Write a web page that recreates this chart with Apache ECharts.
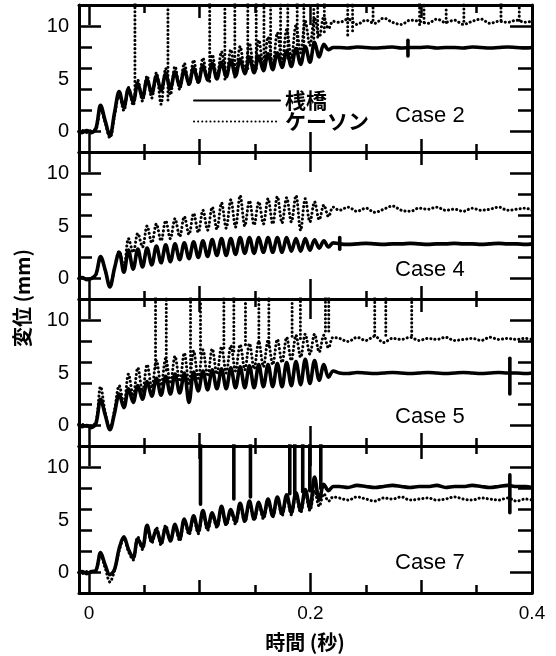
<!DOCTYPE html>
<html><head><meta charset="utf-8">
<script src="https://cdn.jsdelivr.net/npm/echarts@6/dist/echarts.min.js"></script>
<style>html,body{margin:0;padding:0;background:#fff}#c{width:556px;height:656px}</style>
</head><body><div id="c"></div>
<script>
// ---------- data ----------
const caseLabels = ['Case 2', 'Case 4', 'Case 5', 'Case 7'];
const seriesNames = ['桟橋', 'ケーソン'];
const xLabelValues = [0, 0.2, 0.4];
const yLabelValues = [0, 5, 10];

// times (s): oscillating part (half-period steps) and the settled tail
const tOsc = [-0.009, -0.0063, -0.0021, 0.0021, 0.0063, 0.0105, 0.0147, 0.0189, 0.0231, 0.0273,
  0.0315, 0.0357, 0.0399, 0.0441, 0.0483, 0.0525, 0.0567, 0.0609, 0.0651, 0.0693,
  0.0735, 0.0777, 0.0819, 0.0861, 0.0903, 0.0945, 0.0987, 0.1029, 0.1071, 0.1113,
  0.1155, 0.1197, 0.1239, 0.1281, 0.1323, 0.1365, 0.1407, 0.1449, 0.1491, 0.1533,
  0.1575, 0.1617, 0.1659, 0.1701, 0.1743, 0.1785, 0.1827, 0.1869, 0.1911, 0.1953,
  0.1995, 0.2037, 0.2079, 0.2121, 0.2163, 0.2205];
const tTail = [0.226, 0.234, 0.242, 0.25, 0.258, 0.266, 0.274, 0.282, 0.29, 0.298, 0.306, 0.314,
  0.322, 0.33, 0.338, 0.346, 0.354, 0.362, 0.37, 0.378, 0.386, 0.394, 0.4];

// Case 2
const c2Pier = [0, -0.1, 0.1, -0.1, 0.3, 2.5, 1.0, -0.4, 1.8,
  3.8, 2.3, 4.1, 2.8, 4.6, 3.2, 5.0, 3.6, 5.3, 3.9, 5.5, 4.1, 5.7, 4.3, 5.9, 4.5, 6.1, 4.7, 6.3, 4.9,
  6.5, 5.0, 6.6, 5.2, 6.8, 5.3, 6.9, 5.5, 7.1, 5.6, 7.2, 5.8, 7.4, 5.9, 7.5, 6.1, 7.7, 6.2, 7.9, 6.4,
  8.1, 6.6, 8.5, 7.1, 8.3, 7.8, 8.0,
  8.0, 7.95, 8.05, 8.0, 7.95, 8.0, 8.05, 7.95, 8.0, 8.0, 8.05, 7.95, 8.0, 8.0, 7.95, 8.05, 8.0, 7.95, 8.0, 8.05, 8.0, 7.95, 8.0];
const c2Caisson = [0, 0.1, -0.1, 0.1, 0.2, 2.2, 0.8, -0.6, 1.5,
  3.5, 2.0, 4.2, 2.5, 4.9, 2.9, 5.3, 3.2, 5.6, 2.6, 6.0, 3.5, 6.2, 4.0, 6.5, 4.4, 6.8, 4.6, 7.0, 4.9,
  7.3, 5.1, 7.6, 5.3, 7.8, 5.5, 8.1, 5.7, 8.4, 5.9, 8.7, 6.1, 9.0, 6.3, 9.4, 6.6, 9.7, 7.0, 10.1, 7.5,
  10.5, 8.2, 10.8, 9.0, 10.9, 9.8, 10.5,
  10.4, 10.7, 10.2, 10.6, 10.3, 10.8, 10.4, 10.2, 10.6, 10.5, 10.3, 10.7, 10.4, 10.6, 10.2, 10.5, 10.7, 10.3, 10.5, 10.4, 10.6, 10.4, 10.5];
const c2PierSpikeT = [0.288];
const c2PierSpikeLow = [7.2];
const c2PierSpikeHigh = [8.7];
const c2CaissonSpikeT = [0.0415, 0.0713, 0.109, 0.1227, 0.1317, 0.1434, 0.151, 0.158, 0.164, 0.173, 0.1795, 0.188, 0.194, 0.203, 0.2065, 0.2125,
  0.2336, 0.238, 0.2565, 0.2985, 0.3025, 0.3225, 0.3385, 0.372, 0.3885];
const c2CaissonSpikeLow = [3.6, 3.0, 4.8, 5.0, 5.2, 6.0, 6.0, 6.3, 6.5, 7.0, 7.0, 7.5, 7.8, 8.5, 9.0, 9.5,
  9.2, 9.6, 10.6, 10.2, 10.4, 10.4, 10.5, 10.6, 10.6];
const c2CaissonSpikeHigh = [13, 13, 13, 13, 13, 13, 13, 13, 13, 13, 13, 13, 13, 13, 13, 13,
  12.5, 12.5, 11.9, 12.5, 12.5, 11.6, 12.5, 12.2, 11.9];

// Case 4
const c4Pier = [0, 0.1, -0.1, 0.0, 0.4, 2.1, 0.8, -0.8, 1.0,
  2.5, 0.6, 2.7, 0.9, 2.8, 1.1, 2.9, 1.3, 3.1, 1.5, 3.2, 1.6, 3.3, 1.8, 3.4, 1.9, 3.5, 2.0, 3.6, 2.1,
  3.7, 2.2, 3.8, 2.2, 3.8, 2.3, 3.9, 2.4, 3.9, 2.4, 3.9, 2.5, 3.9, 2.5, 3.9, 2.5, 3.9, 2.6, 3.8, 2.6,
  3.8, 2.7, 3.7, 2.9, 3.6, 3.0, 3.4,
  3.3, 3.25, 3.3, 3.35, 3.3, 3.25, 3.3, 3.3, 3.35, 3.3, 3.25, 3.3, 3.3, 3.35, 3.3, 3.3, 3.25, 3.3, 3.35, 3.3, 3.3, 3.25, 3.3];
const c4Caisson = [0, 0.1, -0.1, 0.0, 0.3, 2.0, 0.7, -0.7, 1.0,
  2.6, 1.0, 3.8, 2.5, 4.3, 3.0, 5.0, 3.4, 5.2, 3.6, 5.5, 3.8, 5.7, 4.0, 5.9, 4.2, 6.2, 4.4, 6.5, 4.6,
  6.8, 4.7, 7.2, 4.8, 7.5, 4.9, 7.9, 5.0, 7.4, 5.1, 7.3, 5.2, 7.6, 5.2, 7.8, 5.3, 7.7, 5.4, 7.9, 4.6,
  7.6, 5.4, 7.3, 5.6, 7.0, 5.9, 6.8,
  6.5, 6.8, 6.4, 6.7, 6.3, 6.6, 6.9, 6.5, 6.4, 6.7, 6.6, 6.8, 6.5, 6.6, 6.4, 6.7, 6.5, 6.6, 6.8, 6.5, 6.6, 6.7, 6.5];
const c4PierSpikeT = [0.2264];
const c4PierSpikeLow = [2.8];
const c4PierSpikeHigh = [3.9];
const c4CaissonSpikeT = [];
const c4CaissonSpikeLow = [];
const c4CaissonSpikeHigh = [];

// Case 5
const c5Pier = [0.1, -0.1, 0.0, -0.2, 0.2, 2.5, 1.0, -0.4, 1.2,
  3.0, 1.7, 3.5, 2.2, 3.8, 2.5, 4.2, 2.8, 4.5, 2.9, 4.7, 3.0, 4.9, 3.1, 5.0, 2.2, 5.1, 3.3, 5.2, 3.4,
  5.3, 3.5, 5.4, 3.5, 5.5, 3.6, 5.6, 3.6, 5.7, 3.6, 5.8, 3.7, 5.8, 3.7, 5.9, 3.7, 6.0, 3.8, 6.1, 3.9,
  6.3, 4.0, 6.2, 4.3, 5.8, 4.6, 5.2,
  5.0, 4.95, 5.05, 5.0, 4.95, 5.0, 5.05, 5.0, 4.95, 5.0, 5.05, 5.0, 4.95, 5.0, 5.05, 5.0, 4.95, 5.0, 5.05, 5.0, 5.0, 4.95, 5.0];
const c5Caisson = [0.0, 0.1, -0.1, 0.0, 0.3, 3.7, 1.2, -0.3, 1.5,
  3.8, 2.0, 4.9, 2.8, 5.5, 3.2, 5.8, 3.6, 6.2, 3.8, 6.4, 4.0, 6.6, 4.2, 6.9, 4.0, 7.1, 4.5, 7.2, 4.7,
  7.3, 4.9, 7.5, 5.0, 7.6, 5.2, 7.7, 5.3, 7.8, 5.4, 8.0, 5.6, 8.1, 5.8, 8.2, 6.0, 8.4, 6.2, 8.6, 6.5,
  8.7, 6.8, 8.7, 7.0, 8.6, 7.4, 8.4,
  8.3, 8.0, 8.4, 8.1, 8.5, 7.9, 8.3, 8.2, 8.4, 8.1, 8.3, 8.2, 8.4, 8.1, 8.2, 8.3, 8.1, 8.4, 8.2, 8.3, 8.2, 8.3, 8.2];
const c5PierSpikeT = [0.38];
const c5PierSpikeLow = [3.0];
const c5PierSpikeHigh = [6.4];
const c5CaissonSpikeT = [0.0601, 0.0698, 0.0917, 0.1007, 0.1218, 0.1308, 0.1413, 0.1534, 0.1624, 0.1834, 0.1909, 0.2135, 0.2165, 0.258, 0.268, 0.2914];
const c5CaissonSpikeLow = [5.5, 5.3, 5.5, 6.9, 7.4, 7.1, 7.7, 8.0, 7.6, 8.5, 8.3, 9.0, 9.0, 8.6, 8.6, 8.6];
const c5CaissonSpikeHigh = [13, 13, 13, 13, 13, 13, 13, 13, 13, 13, 13, 13, 13, 13, 13, 13];

// Case 7
const c7Pier = [0.0, 0.1, -0.1, 0.1, 0.2, 1.9, 0.7, -0.2, 0.3,
  2.3, 3.4, 2.2, 1.4, 3.2, 2.4, 4.5, 3.0, 4.1, 2.8, 4.3, 3.0, 4.6, 3.2, 5.1, 3.8, 5.4, 3.9, 5.9, 4.2,
  5.7, 4.4, 6.3, 4.6, 6.0, 4.8, 6.6, 4.9, 6.8, 5.1, 6.7, 5.3, 7.0, 5.4, 7.2, 5.6, 7.4, 5.7, 7.6, 5.9,
  7.9, 6.1, 9.1, 6.9, 8.4, 7.8, 8.2,
  8.2, 8.1, 8.3, 8.2, 8.1, 8.2, 8.3, 8.2, 8.1, 8.2, 8.2, 8.3, 8.1, 8.2, 8.2, 8.3, 8.2, 8.1, 8.2, 8.3, 8.2, 8.2, 8.1];
const c7Caisson = [0.0, -0.1, 0.1, 0.0, 0.2, 1.6, 0.4, -0.9, 0.2,
  2.1, 3.2, 2.0, 1.2, 3.4, 2.2, 4.3, 2.8, 4.3, 2.6, 4.5, 3.1, 4.4, 3.0, 5.0, 3.6, 5.2, 3.7, 5.7, 4.0,
  5.5, 4.3, 6.1, 4.5, 5.8, 4.6, 6.4, 4.8, 6.6, 5.0, 6.5, 5.1, 6.8, 5.3, 7.0, 5.4, 7.2, 5.5, 7.4, 5.7,
  7.6, 5.9, 7.8, 6.3, 7.5, 6.8, 7.2,
  7.1, 6.9, 7.2, 7.0, 6.8, 7.1, 7.0, 7.2, 6.9, 7.0, 7.1, 6.9, 7.0, 7.2, 7.0, 6.9, 7.1, 7.0, 6.9, 7.1, 6.8, 7.0, 6.9];
const c7PierSpikeT = [0.1007, 0.1308, 0.1458, 0.1813, 0.1858, 0.193, 0.1994, 0.2093, 0.38];
const c7PierSpikeLow = [6.5, 7.0, 7.2, 7.5, 7.5, 7.7, 7.8, 8.0, 5.7];
const c7PierSpikeHigh = [13, 13, 13, 13, 13, 13, 13, 13, 9.3];
const c7CaissonSpikeT = [];
const c7CaissonSpikeLow = [];
const c7CaissonSpikeHigh = [];

// ---------- build ----------
const tAll = tOsc.concat(tTail);
const panels = [
  { pier: c2Pier, caisson: c2Caisson, ps: [c2PierSpikeT, c2PierSpikeLow, c2PierSpikeHigh], cs: [c2CaissonSpikeT, c2CaissonSpikeLow, c2CaissonSpikeHigh] },
  { pier: c4Pier, caisson: c4Caisson, ps: [c4PierSpikeT, c4PierSpikeLow, c4PierSpikeHigh], cs: [c4CaissonSpikeT, c4CaissonSpikeLow, c4CaissonSpikeHigh] },
  { pier: c5Pier, caisson: c5Caisson, ps: [c5PierSpikeT, c5PierSpikeLow, c5PierSpikeHigh], cs: [c5CaissonSpikeT, c5CaissonSpikeLow, c5CaissonSpikeHigh] },
  { pier: c7Pier, caisson: c7Caisson, ps: [c7PierSpikeT, c7PierSpikeLow, c7PierSpikeHigh], cs: [c7CaissonSpikeT, c7CaissonSpikeLow, c7CaissonSpikeHigh] }
];

const X_MIN = -0.009, X_MAX = 0.4, Y_MIN = -1.95, Y_MAX = 12.05;
const gridTops = [5, 152, 299, 446];
const GH = 147;
const latin = "'Liberation Sans', Arial, sans-serif";
const cjk = "'Noto Sans CJK JP', 'Liberation Sans', sans-serif";

const solidStyle = { color: '#000', width: 3.6, type: 'solid', cap: 'round', join: 'round' };
const dotStyle = { color: '#000', width: 3, type: [0.1, 4], cap: 'round' };

const grids = [], xAxes = [], yAxes = [], series = [];

function xAx(g, pos, ticks, len, main, labels) {
  return {
    type: 'value', gridIndex: g, min: X_MIN, max: X_MAX, position: pos,
    splitLine: { show: false },
    axisLine: { show: main, onZero: false, lineStyle: { color: '#000', width: 3 } },
    axisTick: { show: true, inside: true, length: len, customValues: ticks, lineStyle: { color: '#000', width: 2.5 } },
    axisLabel: labels ? { show: true, customValues: xLabelValues, margin: 11, fontSize: 19, color: '#000', fontFamily: latin,
      formatter: v => String(v) } : { show: false }
  };
}
function yAx(g, pos, ticks, len, main, labels) {
  return {
    type: 'value', gridIndex: g, min: Y_MIN, max: Y_MAX, position: pos,
    splitLine: { show: false },
    axisLine: { show: main, onZero: false, lineStyle: { color: '#000', width: 3 } },
    axisTick: { show: true, inside: true, length: len, customValues: ticks, lineStyle: { color: '#000', width: 2.5 } },
    axisLabel: labels ? { show: true, customValues: yLabelValues, margin: 10, fontSize: 20, color: '#000', fontFamily: latin } : { show: false }
  };
}
function spikeData(arr) {
  const d = [];
  arr[0].forEach((t, k) => { d.push([t, arr[1][k]], [t, arr[2][k]], [t, null]); });
  return d;
}

panels.forEach((p, g) => {
  grids.push({ left: 79, width: 453, top: gridTops[g], height: GH });
  const last = g === panels.length - 1;
  xAxes.push(xAx(g, 'bottom', [0, 0.2, 0.4], 20, true, last));
  xAxes.push(xAx(g, 'bottom', [0.1, 0.3], 13, false, false));
  xAxes.push(xAx(g, 'bottom', [0.05, 0.15, 0.25, 0.35], 8, false, false));
  xAxes.push(xAx(g, 'top', [0, 0.2, 0.4], 20, true, false));
  xAxes.push(xAx(g, 'top', [0.1, 0.3], 13, false, false));
  xAxes.push(xAx(g, 'top', [0.05, 0.15, 0.25, 0.35], 8, false, false));
  yAxes.push(yAx(g, 'left', [0, 10], 22, true, true));
  yAxes.push(yAx(g, 'left', [2, 4, 6, 8], 13, false, false));
  yAxes.push(yAx(g, 'right', [0, 10], 22, true, false));
  yAxes.push(yAx(g, 'right', [2, 4, 6, 8], 14, false, false));
  const xi = g * 6, yi = g * 4;
  const common = { type: 'line', xAxisIndex: xi, yAxisIndex: yi, symbol: 'none', showSymbol: false, animation: false, silent: true,
    itemStyle: { color: '#000' } };
  series.push(Object.assign({}, common, { name: seriesNames[1], smooth: 0.35, lineStyle: dotStyle, z: 2,
    data: tAll.map((t, k) => [t, p.caisson[k]]) }));
  series.push(Object.assign({}, common, { name: 'spikeC' + g, smooth: false, lineStyle: dotStyle, z: 2,
    data: spikeData(p.cs) }));
  series.push(Object.assign({}, common, { name: seriesNames[0], smooth: 0.35, lineStyle: solidStyle, z: 3,
    data: tAll.map((t, k) => [t, p.pier[k]]) }));
  series.push(Object.assign({}, common, { name: 'spikeP' + g, smooth: false, lineStyle: solidStyle, z: 3,
    data: spikeData(p.ps) }));
});

const caseLabelY = [116, 270, 417, 563];
const graphic = caseLabels.map((c, i) => ({
  type: 'text', left: 395, top: caseLabelY[i] - 11,
  style: { text: c, fontSize: 22, fontFamily: latin, fill: '#000' }
}));
graphic.push({ type: 'text', x: 305, y: 642, style: { text: '時間 (秒)', fontSize: 20, fontWeight: 'bold', fontFamily: cjk, fill: '#000', align: 'center', verticalAlign: 'middle' } });
graphic.push({ type: 'text', x: 22, y: 298, rotation: Math.PI / 2, style: { text: '変位 (mm)', fontSize: 20, fontWeight: 'bold', fontFamily: cjk, fill: '#000', align: 'center', verticalAlign: 'middle' } });

const legendText = { fontSize: 21, fontWeight: 'bold', color: '#000', fontFamily: cjk };
const legendCommon = { left: 193, itemWidth: 86, itemHeight: 14, selectedMode: false, textStyle: legendText, padding: 0,
  itemStyle: { opacity: 0 } };
const chart = echarts.init(document.getElementById('c'), null, { renderer: 'canvas' });
chart.setOption({
  animation: false,
  backgroundColor: '#fff',
  grid: grids, xAxis: xAxes, yAxis: yAxes, series: series,
  legend: [
    Object.assign({ data: [seriesNames[0]], top: 90 }, legendCommon),
    Object.assign({ data: [seriesNames[1]], top: 111 }, legendCommon)
  ],
  graphic: graphic
});
</script>
</body></html>
